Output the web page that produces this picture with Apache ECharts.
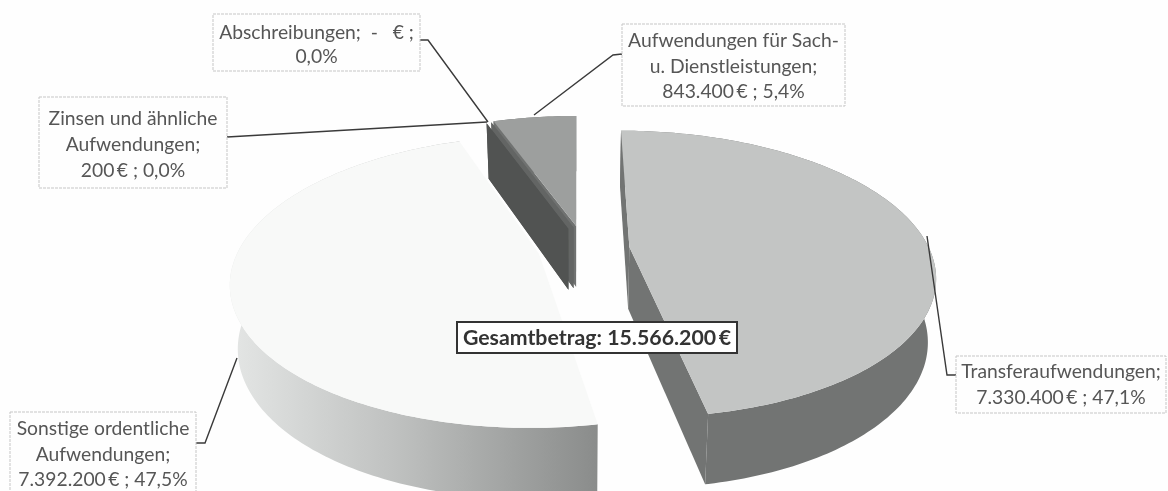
<!DOCTYPE html>
<html>
<head>
<meta charset="utf-8">
<style>
  html, body { margin: 0; padding: 0; background: #fefefe; }
  #chart { width: 1168px; height: 491px; }
</style>
<script src="https://cdn.jsdelivr.net/npm/echarts@6/dist/echarts.min.js"></script>
</head>
<body>
<div id="chart"></div>
<script>
// values in euro, clockwise from 12 o'clock
const categories = ['Transferaufwendungen', 'Sonstige ordentliche Aufwendungen', 'Zinsen und ähnliche Aufwendungen', 'Abschreibungen', 'Aufwendungen für Sach- u. Dienstleistungen']
const values = [7330400, 7392200, 200, 0, 843400]
const labelLines = [
  ['Transferaufwendungen;', '7.330.400\u2009€ ; 47,1%'],
  ['Sonstige ordentliche', 'Aufwendungen;', '7.392.200\u2009€ ; 47,5%'],
  ['Zinsen und ähnliche', 'Aufwendungen;', '200\u2009€ ; 0,0%'],
  ['Abschreibungen;  -   € ;', '0,0%'],
  ['Aufwendungen für Sach-', 'u. Dienstleistungen;', '843.400\u2009€ ; 5,4%']
]
const totalLabel = 'Gesamtbetrag: 15.566.200\u2009€'

// paint back to front
const drawOrder = [1, 4, 3, 2, 0]

// look of each slice
const topColor = ['#c3c5c4', '#f8f9f8', '#5a5c5b', '#666867', '#9d9f9e']
const wallColor = ['#727473', null, '#515352', '#636564', '#707271']
// how far each slice is pulled out, in pie radii
const explode = [[0.175, -0.015], [-0.126, 0.034], [-0.03, -0.15], [-0.012, -0.16], [-0.003, -0.17]]
// box x, y, w, h and the leader line for each label
const boxes = [[956, 356, 210, 57], [10, 412, 186, 81], [39, 97, 188, 91], [213, 14, 207, 57], [622, 24, 223, 82]]
const labelTop = [372, 429, 119, 33, 41]
const labelRow = [25.5, 25.5, 25.8, 23.5, 25.3]
const leaders = [
  [[956, 375], [947, 375], [927, 236]],
  [[196, 443], [205, 443], [237, 358]],
  [[227, 137], [487, 122]],
  [[420, 40], [428, 40], [488, 122]],
  [[622, 54], [613, 55], [534, 115]]
]

const VX = 577, VY = 249, RX = 300, RY = 139, PERSP = 0.19, DEPTH = 62

const total = values.reduce((a, b) => a + b, 0)
const sliceRows = []
let acc = 0
values.forEach((v, i) => {
  sliceRows[i] = [acc / total * 360, (acc + v) / total * 360, i]
  acc += v
})
const seriesData = drawOrder.map(i => sliceRows[i])

// pie plane -> screen, with a bit of perspective
function project(X, Y) {
  const s = 1 / (1 - PERSP * Y)
  return { x: VX + X * RX * s, y: VY + Y * RY * s, s }
}
function upper(X, Y) {
  const p = project(X, Y)
  return [p.x, p.y]
}
function lower(X, Y) {
  const p = project(X, Y)
  return [VX + (p.x - VX) * 0.977, p.y + DEPTH * (1 + 0.6 * (p.s - 1))]
}
function rimPoint(off, deg) {
  const a = deg * Math.PI / 180
  return [off[0] + Math.sin(a), off[1] - Math.cos(a)]
}

function renderSlice(params, api) {
  const start = api.value(0), end = api.value(1), idx = api.value(2)
  const off = explode[idx]
  const rim = []
  for (let d = start; d < end; d += 1) rim.push(rimPoint(off, d))
  rim.push(rimPoint(off, end))

  const children = []
  const outerWall = rim.map(p => upper(p[0], p[1])).concat(rim.slice().reverse().map(p => lower(p[0], p[1])))

  // outer wall, the big light slice fades out to the left
  let wallFill = wallColor[idx]
  if (!wallFill) {
    wallFill = new echarts.graphic.LinearGradient(0, 0, 1, 0, [
      { offset: 0, color: '#e4e6e5' },
      { offset: 0.45, color: '#bfc1c0' },
      { offset: 1, color: '#8a8c8b' }
    ])
  }
  if (rim.length > 2) children.push({ type: 'polygon', shape: { points: outerWall }, style: { fill: wallFill } })

  // cut faces, the light slice shows none of them
  if (wallColor[idx]) {
    const faces = [rim[rim.length - 1], rim[0]]
    faces.forEach(p => {
      children.push({
        type: 'polygon',
        shape: { points: [upper(off[0], off[1]), upper(p[0], p[1]), lower(p[0], p[1]), lower(off[0], off[1])] },
        style: { fill: wallColor[idx] }
      })
    })
  }

  const top = [upper(off[0], off[1])].concat(rim.map(p => upper(p[0], p[1])))
  children.push({ type: 'polygon', shape: { points: top }, style: { fill: topColor[idx] } })
  return { type: 'group', children }
}

const overlay = []
categories.forEach((name, i) => {
  const b = boxes[i]
  overlay.push({
    type: 'polyline', z: 50, silent: true,
    shape: { points: leaders[i] },
    style: { stroke: '#3a3a3a', lineWidth: 1.4, fill: null }
  })
  overlay.push({
    type: 'rect', z: 51, silent: true,
    shape: { x: b[0], y: b[1], width: b[2], height: b[3] },
    style: { fill: '#fefefe', stroke: '#c6c6c6', lineWidth: 1, lineDash: [3, 1] }
  })
  labelLines[i].forEach((line, k) => {
    overlay.push({
      type: 'text', z: 52, silent: true,
      style: {
        text: line, x: b[0] + b[2] / 2, y: labelTop[i] + k * labelRow[i],
        align: 'center', verticalAlign: 'middle',
        font: '19.3px Lato', fill: '#565656'
      }
    })
  })
})
overlay.push({
  type: 'rect', z: 60, silent: true,
  shape: { x: 457, y: 322, width: 280, height: 31 },
  style: { fill: '#ffffff', stroke: '#333333', lineWidth: 2 }
})
overlay.push({
  type: 'text', z: 61, silent: true,
  style: {
    text: totalLabel, x: 597, y: 338, align: 'center', verticalAlign: 'middle',
    font: 'bold 21.3px Lato', fill: '#333333'
  }
})

const chart = echarts.init(document.getElementById('chart'), null, { renderer: 'canvas' })
chart.setOption({
  animation: false,
  backgroundColor: '#fefefe',
  series: [{
    type: 'custom',
    coordinateSystem: 'none',
    silent: true,
    clip: false,
    renderItem: renderSlice,
    encode: { value: [0, 1] },
    data: seriesData
  }],
  graphic: overlay
})
</script>
</body>
</html>
